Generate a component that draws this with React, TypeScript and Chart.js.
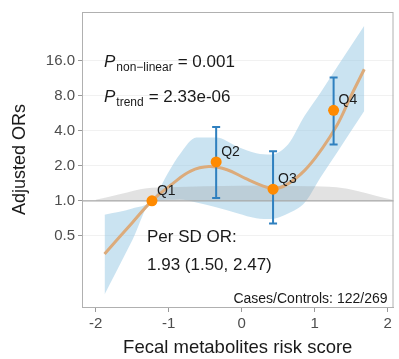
import React, { useEffect, useRef } from "react";
import { Chart, registerables } from "chart.js";
Chart.register(...registerables);

// Spline estimate (OR) along the risk score
const curveX = [-1.88, -1.5, -1.23, -0.95, -0.7, -0.45, -0.2, 0.05, 0.27, 0.43, 0.6, 0.86, 1.1, 1.31, 1.5, 1.68];
const curveOR = [0.35, 0.65, 1.0, 1.4, 1.8, 1.97, 1.85, 1.56, 1.36, 1.28, 1.36, 1.82, 2.8, 4.5, 8.0, 13.5];

// 95% CI band
const bandX = [-1.88, -1.5, -1.23, -0.99, -0.85, -0.62, -0.35, -0.05, 0.2, 0.4, 0.635, 0.865, 1.08, 1.31, 1.68];
const bandUpper = [0.76, 0.86, 1.01, 1.82, 2.5, 3.5, 3.5, 2.9, 2.57, 2.5, 3.05, 5.4, 8.5, 14.2, 32];
const bandLower = [0.157, 0.46, 0.99, 1.02, 1.03, 0.97, 0.88, 0.78, 0.71, 0.7, 0.78, 0.97, 1.59, 2.62, 5.9];

// Density of the score (drawn above OR = 1)
const densX = [-2.0, -1.66, -1.3, -1.0, -0.5, 0, 0.5, 0.9, 1.3, 1.6, 1.85, 2.07];
const densY = [1.02, 1.144, 1.284, 1.309, 1.335, 1.348, 1.348, 1.335, 1.309, 1.212, 1.101, 1.02];

// Quartile estimates
const qLabels = ["Q1", "Q2", "Q3", "Q4"];
const qX = [-1.23, -0.35, 0.43, 1.26];
const qOR = [1.0, 2.16, 1.26, 6.0];
const qLow = [null, 1.06, 0.64, 3.05];
const qHigh = [null, 4.3, 2.67, 11.5];

const xTicks = [-2, -1, 0, 1, 2];
const yTicks = [0.5, 1, 2, 4, 8, 16];

const FONT = "'Liberation Sans', Arial, Helvetica, sans-serif";

const annotPlugin = {
  id: "annot",
  beforeDatasetsDraw(chart: any) {
    const { ctx, chartArea, scales } = chart;
    const y = scales.y.getPixelForValue(1);
    ctx.save();
    ctx.strokeStyle = "#a9a9a9";
    ctx.lineWidth = 1.2;
    ctx.beginPath();
    ctx.moveTo(chartArea.left, y);
    ctx.lineTo(chartArea.right, y);
    ctx.stroke();
    ctx.restore();
  },
  beforeDatasetDraw(chart: any, args: any) {
    if (args.index !== 0) return;
    const { ctx, scales } = chart;
    ctx.save();
    ctx.strokeStyle = "#2f80bf";
    ctx.lineWidth = 2;
    for (let i = 0; i < qX.length; i++) {
      const lo = qLow[i];
      const hi = qHigh[i];
      if (lo == null || hi == null) continue;
      const x = scales.x.getPixelForValue(qX[i]);
      const y1 = scales.y.getPixelForValue(lo);
      const y2 = scales.y.getPixelForValue(hi);
      ctx.beginPath();
      ctx.moveTo(x, y1);
      ctx.lineTo(x, y2);
      ctx.moveTo(x - 4, y1);
      ctx.lineTo(x + 4, y1);
      ctx.moveTo(x - 4, y2);
      ctx.lineTo(x + 4, y2);
      ctx.stroke();
    }
    ctx.restore();
  },
  afterDraw(chart: any) {
    const { ctx, chartArea, scales } = chart;
    const L = chartArea.left;
    const T = chartArea.top;
    ctx.save();
    ctx.strokeStyle = "#b0b0b0";
    ctx.lineWidth = 1;
    ctx.strokeRect(L + 0.5, T + 0.5, chartArea.right - L - 1, chartArea.bottom - T);

    ctx.fillStyle = "#1a1a1a";
    ctx.textBaseline = "alphabetic";
    ctx.textAlign = "left";
    const pText = (x: number, y: number, sub: string, rest: string) => {
      ctx.font = `italic 17px ${FONT}`;
      ctx.fillText("P", x, y);
      const w = ctx.measureText("P").width;
      ctx.font = `12px ${FONT}`;
      ctx.fillText(sub, x + w + 1, y + 4);
      const ws = ctx.measureText(sub).width;
      ctx.font = `17px ${FONT}`;
      ctx.fillText(rest, x + w + 1 + ws + 5, y);
    };
    pText(L + 22, T + 55, "non\u2212linear", "= 0.001");
    pText(L + 22, T + 90, "trend", "= 2.33e-06");

    ctx.font = `17px ${FONT}`;
    ctx.fillText("Per SD OR:", L + 65, T + 230);
    ctx.fillText("1.93 (1.50, 2.47)", L + 65, T + 258);

    ctx.font = `14px ${FONT}`;
    ctx.textAlign = "right";
    ctx.fillText("Cases/Controls: 122/269", chartArea.right - 6, T + 291);

    ctx.textAlign = "left";
    ctx.font = `14px ${FONT}`;
    for (let i = 0; i < qX.length; i++) {
      const x = scales.x.getPixelForValue(qX[i]);
      const y = scales.y.getPixelForValue(qOR[i]);
      ctx.fillText(qLabels[i], x + 5, y - 6);
    }
    ctx.restore();
  },
};

export default function App() {
  const ref = useRef<HTMLCanvasElement>(null);
  useEffect(() => {
    document.body.style.margin = "0";
    const pts = (xs: number[], ys: number[]) => xs.map((x, i) => ({ x, y: ys[i] }));
    const chart = new Chart(ref.current as HTMLCanvasElement, {
      type: "line",
      data: {
        datasets: [
          {
            data: pts(qX, qOR),
            showLine: false,
            pointRadius: 5.5,
            pointBorderWidth: 0,
            pointBackgroundColor: "#ff8a00",
            pointBorderColor: "#ff8a00",
          },
          {
            data: pts(curveX, curveOR),
            borderColor: "#dcab7b",
            borderWidth: 3,
            pointRadius: 0,
            fill: false,
            tension: 0.4,
          },
          {
            data: pts(densX, densY),
            borderWidth: 0,
            pointRadius: 0,
            fill: { value: 1 },
            backgroundColor: "rgba(150,150,150,0.28)",
            cubicInterpolationMode: "monotone",
          },
          {
            data: pts(bandX, bandLower),
            borderWidth: 0,
            pointRadius: 0,
            fill: false,
            cubicInterpolationMode: "monotone",
          },
          {
            data: pts(bandX, bandUpper),
            borderWidth: 0,
            pointRadius: 0,
            fill: "-1",
            backgroundColor: "rgba(150,200,228,0.5)",
            cubicInterpolationMode: "monotone",
          },
        ] as any,
      },
      options: {
        responsive: false,
        animation: false,
        devicePixelRatio: 1,
        layout: { padding: { top: 4, right: 1, left: 0, bottom: 0 } },
        plugins: {
          legend: { display: false },
          tooltip: { enabled: false },
          filler: { drawTime: "beforeDatasetsDraw" },
        },
        scales: {
          x: {
            type: "linear",
            min: -2.189,
            max: 2.081,
            afterBuildTicks: (s: any) => {
              s.ticks = xTicks.map((v) => ({ value: v }));
            },
            afterFit: (s: any) => {
              s.height = 52;
            },
            ticks: {
              color: "#4d4d4d",
              font: { size: 15, family: FONT },
              padding: 3,
              callback: (v: any) => String(v),
            },
            grid: { drawOnChartArea: false, tickLength: 5, tickColor: "#999", color: "#999" },
            border: { color: "#b0b0b0" },
            title: {
              display: true,
              text: "Fecal metabolites risk score",
              color: "#1a1a1a",
              font: { size: 18.5, family: FONT },
              padding: { top: 2, bottom: 0 },
            },
          },
          y: {
            type: "logarithmic",
            min: 0.1226,
            max: 41.9,
            afterBuildTicks: (s: any) => {
              s.ticks = yTicks.map((v) => ({ value: v }));
            },
            afterFit: (s: any) => {
              s.width = 82;
            },
            ticks: {
              color: "#4d4d4d",
              font: { size: 15, family: FONT },
              padding: 3,
              callback: (v: any) => Number(v).toFixed(1),
            },
            grid: { color: "#f1f1f1", tickLength: 4, tickColor: "#999" },
            border: { color: "#b0b0b0" },
            title: {
              display: true,
              text: "Adjusted ORs",
              color: "#1a1a1a",
              font: { size: 18, family: FONT },
              padding: { top: 9, bottom: 0 },
            },
          },
        },
      },
      plugins: [annotPlugin],
    } as any);
    return () => chart.destroy();
  }, []);
  return <canvas ref={ref} width={399} height={359} style={{ display: "block", width: 399, height: 359 }} />;
}
